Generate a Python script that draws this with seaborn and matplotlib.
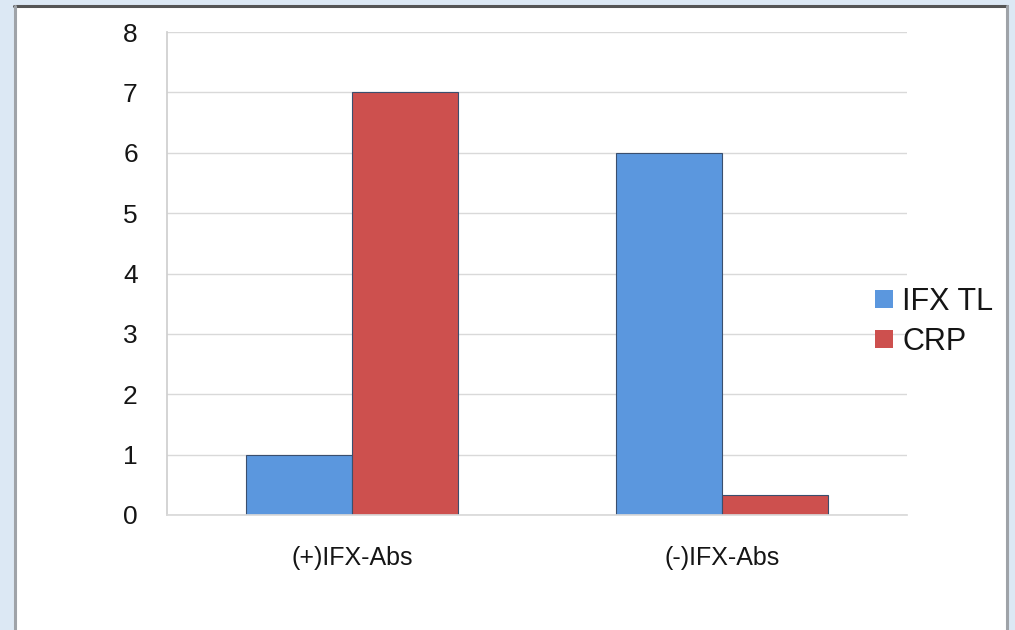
import matplotlib
matplotlib.use("Agg")
import matplotlib.pyplot as plt
from matplotlib.patches import Rectangle
from matplotlib.lines import Line2D
import seaborn as sns
import pandas as pd

groups = ["(+)IFX-Abs", "(-)IFX-Abs"]
series = ["IFX TL", "CRP"]
ifx_tl = [1, 6]
crp = [7, 0.33]
y_ticks = [0, 1, 2, 3, 4, 5, 6, 7, 8]

colors = {"IFX TL": "#5b97de", "CRP": "#cd504e"}

df = pd.DataFrame({
    "group": groups * 2,
    "series": [series[0]] * len(groups) + [series[1]] * len(groups),
    "value": ifx_tl + crp,
})

sns.set_theme(style="white")
plt.rcParams["font.family"] = ["Liberation Sans", "DejaVu Sans"]

fig = plt.figure(figsize=(10.15, 6.3), dpi=100, facecolor="#dce8f4")

# white framed panel behind the chart
W, H = 1015, 630
fig.patches.append(Rectangle((14 / W, 0), (1007 - 14) / W, (H - 5) / H,
                             transform=fig.transFigure, facecolor="white",
                             edgecolor="none", zorder=-10))
fig.lines.append(Line2D([14 / W, 1007 / W], [1 - 6 / H, 1 - 6 / H],
                        transform=fig.transFigure, color="#555555", lw=2.2, zorder=-5))
fig.lines.append(Line2D([14.5 / W, 14.5 / W], [0, 1 - 6 / H],
                        transform=fig.transFigure, color="#9fa3a8", lw=2.2, zorder=-5))
fig.lines.append(Line2D([1007 / W, 1007 / W], [0, 1 - 6 / H],
                        transform=fig.transFigure, color="#9fa3a8", lw=2.2, zorder=-5))

ax = fig.add_axes([167 / W, 1 - 515 / H, (907 - 167) / W, (515 - 32) / H])
ax.set_facecolor("none")
ax.set_zorder(1)

sns.barplot(data=df, x="group", y="value", hue="series", order=groups,
            hue_order=series, palette=colors, width=0.572, saturation=1,
            edgecolor="#3a4f6e", linewidth=0.8, ax=ax, legend=False)

ax.set_ylim(0, 8)
ax.set_yticks(y_ticks)
ax.set_yticklabels([str(t) for t in y_ticks])
ax.yaxis.grid(True, color="#d9d9d9", lw=1)
ax.set_axisbelow(True)
ax.set_xlabel("")
ax.set_ylabel("")
for side in ["top", "right"]:
    ax.spines[side].set_visible(False)
ax.spines["left"].set_color("#cfcfcf")
ax.spines["bottom"].set_color("#d9d9d9")
ax.tick_params(axis="y", labelsize=19, pad=21, length=0, colors="#151515")
ax.tick_params(axis="x", labelsize=18, pad=22, length=0, colors="#151515")

handles = [Rectangle((0, 0), 1, 1, facecolor=colors[s], edgecolor="none") for s in series]
fig.legend(handles, series, loc="center left", bbox_to_anchor=(875 / W, 1 - 322 / H),
           frameon=False, fontsize=22, handlelength=0.6, handleheight=0.55,
           handletextpad=0.3, labelspacing=0.33, borderpad=0, borderaxespad=0,
           labelcolor="#151515")

fig.savefig("out.png", dpi=100, facecolor=fig.get_facecolor())
